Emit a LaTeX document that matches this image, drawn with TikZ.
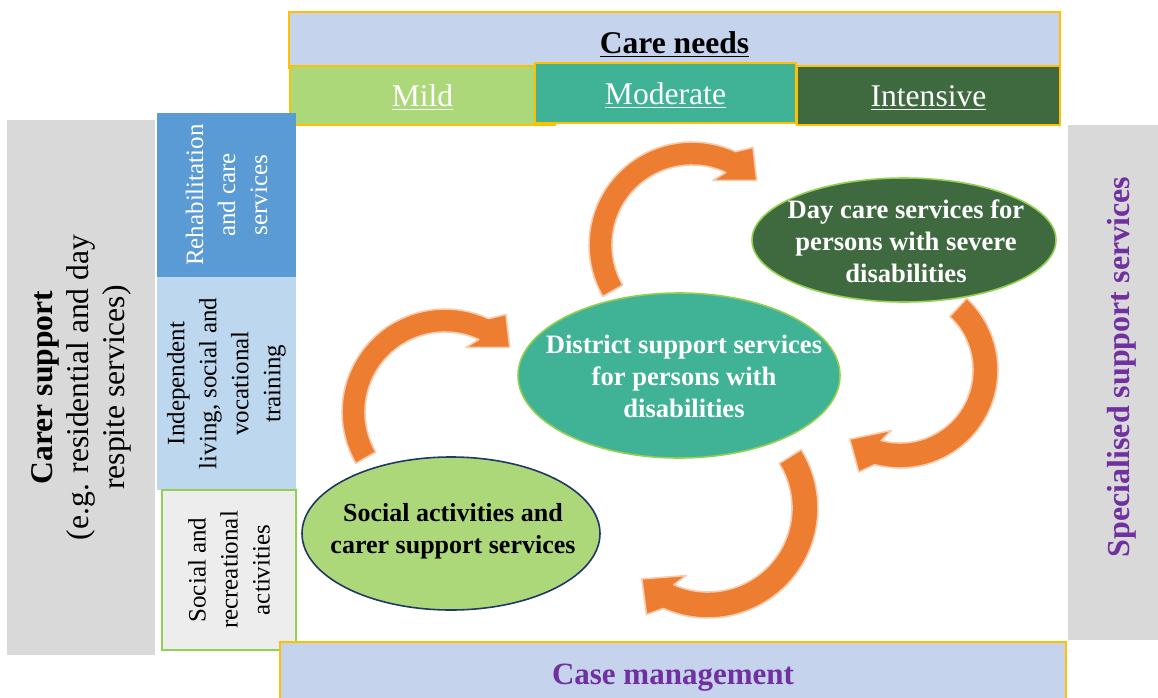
\documentclass[tikz,border=0pt]{standalone}
\usepackage{fontspec}
\setmainfont{Liberation Serif}
\usetikzlibrary{shapes.geometric}

\definecolor{goldline}{HTML}{FFC000}
\definecolor{needsblue}{HTML}{C5D3EC}
\definecolor{mildgreen}{HTML}{ADD87A}
\definecolor{modteal}{HTML}{40B296}
\definecolor{intgreen}{HTML}{3F6A40}
\definecolor{sidegray}{HTML}{D9D9D9}
\definecolor{rehabblue}{HTML}{5B9BD5}
\definecolor{livingblue}{HTML}{BDD7EE}
\definecolor{socialgray}{HTML}{EDEDED}
\definecolor{rimgreen}{HTML}{92D050}
\definecolor{navyrim}{HTML}{1F3864}
\definecolor{casepurple}{HTML}{7030A0}
\definecolor{turnorange}{HTML}{ED7D31}
\definecolor{turnrim}{HTML}{F8CBAD}

\tikzstyle{headbox} = [rectangle, draw=goldline, line width=1pt, inner sep=0pt]
\tikzstyle{needlevel} = [headbox, text=white, text height=11pt, text depth=0pt,
    font=\fontsize{15.8}{19}\selectfont]
\tikzstyle{sidebox} = [rectangle, rotate=90, inner sep=0pt, align=center,
    font=\fontsize{12.5}{16}\selectfont]
\tikzstyle{bubble} = [ellipse, draw=rimgreen, line width=0.8pt, inner sep=0pt]
\tikzstyle{bubbletext} = [align=center, text=white,
    font=\bfseries\fontsize{13.3}{16}\selectfont]
\tikzstyle{cyclearrow} = [fill=turnorange, draw=turnrim, line width=0.8pt, line join=round]

% curved block arrow: centre x, centre y, inner r, outer r, tail angle, head angle,
% barb overhang, tip offset, barb skew
\newcommand{\loopturn}[9]{%
  \filldraw[cyclearrow]
    plot[domain=#5:#6, samples=40] ({#1+#4*cos(\x)}, {#2+#4*sin(\x)})
    -- ({#1+(#4+#7)*cos(#6+#9)}, {#2+(#4+#7)*sin(#6+#9)})
    -- ({#1+(#3+#4)/2*cos(#6+#8)}, {#2+(#3+#4)/2*sin(#6+#8)})
    -- ({#1+(#3-#7)*cos(#6-#9)}, {#2+(#3-#7)*sin(#6-#9)})
    -- plot[domain=#6:#5, samples=40] ({#1+#3*cos(\x)}, {#2+#3*sin(\x)})
    -- cycle;}

\begin{document}
\begin{tikzpicture}[x=0.5pt, y=-0.5pt]
    \useasboundingbox (0,0) rectangle (1158,697);

    % care needs and its three levels
    \node [headbox, fill=needsblue, minimum width=385.5pt, minimum height=28pt,
        text height=13.5pt, text depth=0pt,
        font=\bfseries\fontsize{15.8}{19}\selectfont] (needs) at (674.5,40) {\underline{Care needs}};
    \node [needlevel, fill=mildgreen, minimum width=132.5pt, minimum height=29.5pt] (mild) at (422.5,95.5) {\underline{Mild}};
    \node [needlevel, fill=modteal, minimum width=130.5pt, minimum height=30pt] (moderate) at (665.5,93) {\underline{Moderate}};
    \node [needlevel, fill=intgreen, minimum width=131.5pt, minimum height=29.5pt] (intensive) at (928.5,95.5) {\underline{Intensive}};

    % left column
    \node [sidebox, fill=sidegray, minimum width=267.5pt, minimum height=74pt,
        font=\fontsize{15.8}{18}\selectfont] (carer) at (81,387.5)
        {\textbf{Carer support}\\(e.g. residential and day\\respite services)};
    \node [sidebox, fill=rehabblue, text=white, minimum width=82pt, minimum height=69.5pt] (rehab) at (226.5,195)
        {Rehabilitation\\and care\\services};
    \node [sidebox, fill=livingblue, minimum width=106.5pt, minimum height=69.5pt] (living) at (226.5,383.5)
        {Independent\\living, social and\\vocational\\training};
    \node [sidebox, fill=socialgray, draw=rimgreen, line width=0.8pt,
        minimum width=80pt, minimum height=67pt] (leisure) at (229,570)
        {Social and\\recreational\\activities};

    % right column
    \node [sidebox, fill=sidegray, minimum width=257.5pt, minimum height=54pt] (specbox) at (1122,382.5) {};
    \node [rotate=90, text=casepurple, font=\bfseries\fontsize{16}{19}\selectfont] (spec) at (1122,367)
        {Specialised support services};

    % bottom band
    \node [headbox, fill=needsblue, minimum width=393pt, minimum height=31.5pt, text=casepurple,
        text height=11pt, text depth=0pt,
        font=\bfseries\fontsize{15.5}{19}\selectfont] (case) at (673,673.5) {Case management};

    % services
    \node [bubble, fill=intgreen, minimum width=152pt, minimum height=62pt] (daycare) at (904,240) {};
    \node [bubbletext] (daycare text) at (906,241) {Day care services for\\persons with severe\\disabilities};
    \node [bubble, fill=modteal, minimum width=161pt, minimum height=82.5pt] (district) at (679,375.5) {};
    \node [bubbletext] (district text) at (684,376.5) {District support services\\for persons with\\disabilities};
    \node [bubble, fill=mildgreen, draw=navyrim, minimum width=149pt, minimum height=76.5pt] (social) at (451,533.5) {};
    \node [bubbletext, text=black, font=\bfseries\fontsize{13}{16}\selectfont] (social text) at (453,531)
        {Social activities and\\carer support services};

    % the cycle of arrows
    \loopturn{692}{245}{80}{103}{150}{295}{12}{20}{7}
    \loopturn{900}{370}{73}{98}{-47}{105}{12}{21}{7}
    \loopturn{708}{508}{84}{110}{-32}{114}{13}{19}{6}
    \loopturn{445}{412}{80}{103}{150}{295}{12}{20}{7}
\end{tikzpicture}
\end{document}
